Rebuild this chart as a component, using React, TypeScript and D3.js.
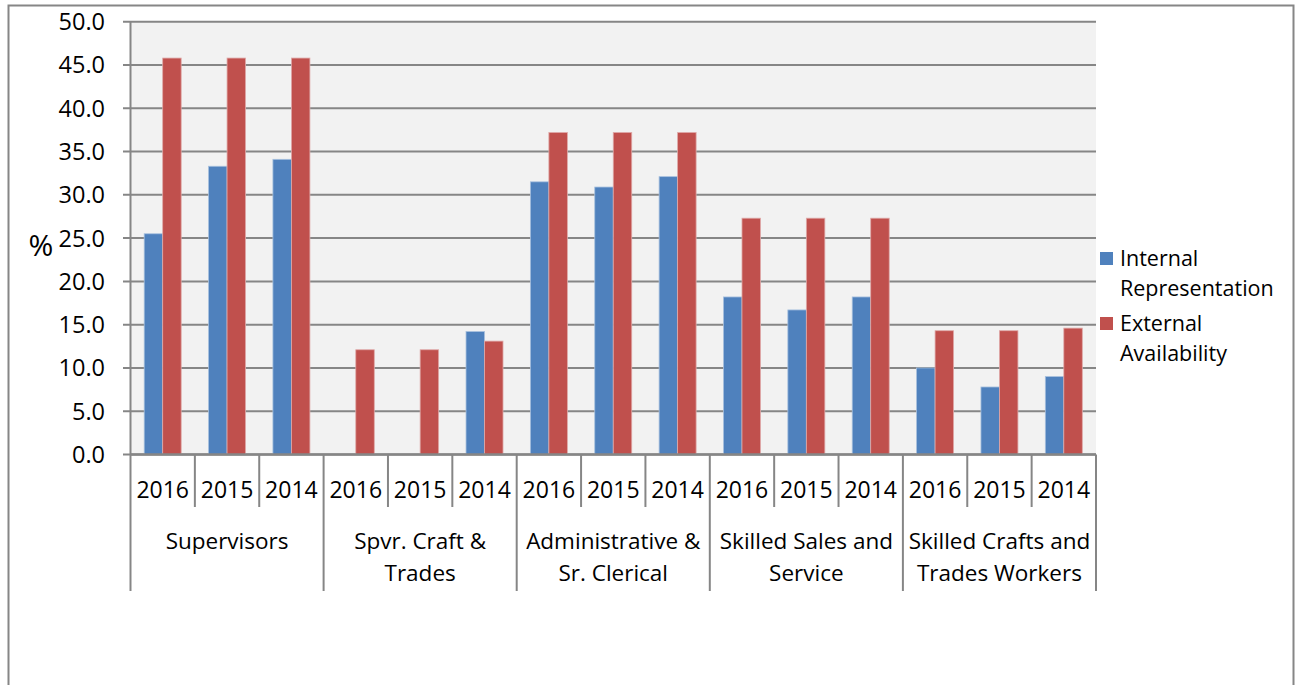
import React from "react";
import * as d3 from "d3";

const groupLabels: string[][] = [
  ["Supervisors"],
  ["Spvr. Craft &", "Trades"],
  ["Administrative &", "Sr. Clerical"],
  ["Skilled Sales and", "Service"],
  ["Skilled Crafts and", "Trades Workers"],
];
const years = ["2016", "2015", "2014"];
const seriesNames = ["Internal Representation", "External Availability"];
const legendLines: string[][] = [["Internal", "Representation"], ["External", "Availability"]];
const internalRep: (number | null)[] = [25.5, 33.3, 34.1, null, null, 14.2, 31.5, 30.9, 32.1, 18.2, 16.7, 18.2, 10.0, 7.8, 9.0];
const externalAvail: (number | null)[] = [45.8, 45.8, 45.8, 12.1, 12.1, 13.1, 37.2, 37.2, 37.2, 27.3, 27.3, 27.3, 14.3, 14.3, 14.6];
const yTicks = [0, 5, 10, 15, 20, 25, 30, 35, 40, 45, 50];
const colors = ["#4f81bd", "#c0504d"];

const W = 1296;
const H = 685;
const FONT = "'Open Sans', sans-serif";

export default function App() {
  const left = 130.5;
  const right = 1096;
  const top = 21.7;
  const bottom = 454.5;

  const cats = groupLabels.flatMap((_, gi) => years.map((y) => `${gi}-${y}`));
  const x = d3.scaleBand<string>().domain(cats).range([left, right]).paddingInner(0).paddingOuter(0);
  const x1 = d3.scaleBand<string>().domain(seriesNames).range([0, x.bandwidth()]).paddingInner(0).paddingOuter(0.74);
  const y = d3.scaleLinear().domain([0, 50]).range([bottom, top]);
  const series = [internalRep, externalAvail];
  const grey = "#868686";
  const groupW = x.bandwidth() * years.length;

  return (
    <svg width={W} height={H} style={{ position: "absolute", left: 0, top: 0 }} fontFamily={FONT}>
      <rect x={0} y={0} width={W} height={H} fill="#fff" />
      {/* outer border */}
      <path d={`M8.5,${H + 2} V5.5 H1293.5 V${H + 2}`} fill="none" stroke={grey} strokeWidth={2} />
      {/* plot area */}
      <rect x={left} y={top} width={right - left} height={bottom - top} fill="#f2f2f2" />
      {yTicks.map((t) => (
        <g key={t}>
          <line x1={123} x2={right} y1={y(t)} y2={y(t)} stroke={grey} strokeWidth={2} />
          <text x={105} y={y(t)} dy="0.36em" textAnchor="end" fontSize={23.5} fill="#000">
            {t.toFixed(1)}
          </text>
        </g>
      ))}
      <text x={41} y={245} dy="0.36em" textAnchor="middle" fontSize={30} fill="#000">%</text>
      {/* bars */}
      {cats.map((c, i) => (
        <g key={c} transform={`translate(${x(c)},0)`}>
          {series.map((s, si) => {
            const v = s[i];
            if (v == null) return null;
            return (
              <rect
                key={si}
                x={x1(seriesNames[si])}
                y={y(v)}
                width={x1.bandwidth()}
                height={y(0) - y(v)}
                fill={colors[si]}
                stroke={si === 0 ? "#a7c0de" : "#dfa9a8"}
                strokeWidth={0.8}
              />
            );
          })}
        </g>
      ))}
      {/* axes */}
      <line x1={left} x2={left} y1={top} y2={bottom} stroke={grey} strokeWidth={2} />
      <line x1={left} x2={right} y1={bottom} y2={bottom} stroke={grey} strokeWidth={2.5} />
      {cats.map((c, i) => (
        <g key={c}>
          {i % 3 !== 0 && (
            <line x1={x(c)} x2={x(c)} y1={bottom} y2={507} stroke={grey} strokeWidth={2} />
          )}
          <text x={(x(c) as number) + x.bandwidth() / 2} y={490} dy="0.36em" textAnchor="middle" fontSize={23} fill="#000">
            {years[i % 3]}
          </text>
        </g>
      ))}
      {groupLabels.map((lines, gi) => {
        const gx = left + gi * groupW;
        return (
          <g key={gi}>
            <line x1={gx} x2={gx} y1={bottom} y2={591} stroke={grey} strokeWidth={2} />
            {lines.map((ln, li) => (
              <text key={li} x={gx + groupW / 2} y={541 + li * 32} dy="0.36em" textAnchor="middle" fontSize={22.5} fill="#000">
                {ln}
              </text>
            ))}
          </g>
        );
      })}
      <line x1={right} x2={right} y1={bottom} y2={591} stroke={grey} strokeWidth={2} />
      {/* legend */}
      {legendLines.map((lines, si) => (
        <g key={si} transform={`translate(1100,${252 + si * 65})`}>
          <rect x={0} y={0} width={13} height={13} fill={colors[si]} />
          {lines.map((ln, li) => (
            <text key={li} x={20} y={6.5 + li * 30} dy="0.36em" fontSize={21.5} fill="#000">
              {ln}
            </text>
          ))}
        </g>
      ))}
    </svg>
  );
}
